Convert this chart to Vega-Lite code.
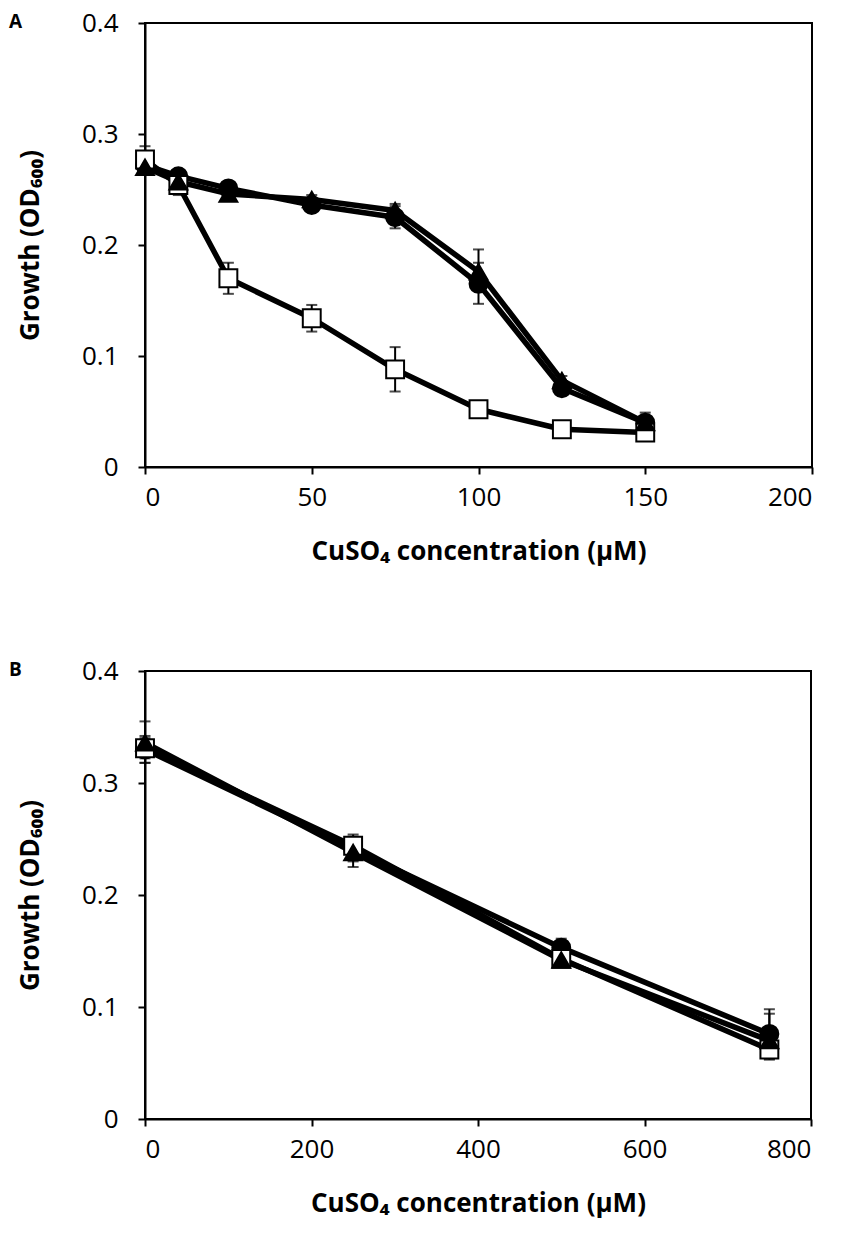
{
  "$schema": "https://vega.github.io/schema/vega-lite/v6.json",
  "background": "white",
  "padding": {"left": 8, "top": 9, "right": 5, "bottom": 5},
  "spacing": 92,
  "config": {
    "font": "Open Sans",
    "view": {"stroke": "black", "strokeWidth": 2},
    "axis": {
      "grid": false,
      "domainColor": "black",
      "domainWidth": 2,
      "tickColor": "black",
      "tickWidth": 2,
      "tickSize": 7,
      "labelFont": "Open Sans",
      "labelFontSize": 26,
      "labelColor": "black",
      "titleFont": "Open Sans",
      "titleFontWeight": "bold",
      "titleColor": "black"
    },
    "axisX": {"labelPadding": 10, "titleFontSize": 26, "titlePadding": 28},
    "axisY": {"labelPadding": 20, "titleFontSize": 26, "titlePadding": 38},
    "title": {"font": "Open Sans", "fontSize": 19, "fontWeight": "bold", "color": "black", "anchor": "start", "frame": "group", "offset": 0}
  },
  "datasets": {
    "panelA": [
      {"conc": 0, "group": "circle", "od": 0.272, "lo": 0.266, "hi": 0.278},
      {"conc": 10, "group": "circle", "od": 0.262, "lo": 0.258, "hi": 0.266},
      {"conc": 25, "group": "circle", "od": 0.251, "lo": 0.247, "hi": 0.255},
      {"conc": 50, "group": "circle", "od": 0.236, "lo": 0.232, "hi": 0.240},
      {"conc": 75, "group": "circle", "od": 0.225, "lo": 0.215, "hi": 0.235},
      {"conc": 100, "group": "circle", "od": 0.165, "lo": 0.147, "hi": 0.184},
      {"conc": 125, "group": "circle", "od": 0.071, "lo": 0.067, "hi": 0.075},
      {"conc": 150, "group": "circle", "od": 0.040, "lo": 0.036, "hi": 0.044},
      {"conc": 0, "group": "square", "od": 0.277, "lo": 0.265, "hi": 0.289},
      {"conc": 10, "group": "square", "od": 0.254, "lo": 0.245, "hi": 0.263},
      {"conc": 25, "group": "square", "od": 0.170, "lo": 0.156, "hi": 0.184},
      {"conc": 50, "group": "square", "od": 0.134, "lo": 0.122, "hi": 0.146},
      {"conc": 75, "group": "square", "od": 0.088, "lo": 0.068, "hi": 0.108},
      {"conc": 100, "group": "square", "od": 0.052, "lo": 0.049, "hi": 0.055},
      {"conc": 125, "group": "square", "od": 0.034, "lo": 0.032, "hi": 0.036},
      {"conc": 150, "group": "square", "od": 0.031, "lo": 0.028, "hi": 0.034},
      {"conc": 0, "group": "triangle", "od": 0.270, "lo": 0.266, "hi": 0.274},
      {"conc": 10, "group": "triangle", "od": 0.257, "lo": 0.253, "hi": 0.261},
      {"conc": 25, "group": "triangle", "od": 0.246, "lo": 0.242, "hi": 0.250},
      {"conc": 50, "group": "triangle", "od": 0.241, "lo": 0.237, "hi": 0.245},
      {"conc": 75, "group": "triangle", "od": 0.231, "lo": 0.225, "hi": 0.237},
      {"conc": 100, "group": "triangle", "od": 0.176, "lo": 0.160, "hi": 0.196},
      {"conc": 125, "group": "triangle", "od": 0.078, "lo": 0.074, "hi": 0.082},
      {"conc": 150, "group": "triangle", "od": 0.040, "lo": 0.031, "hi": 0.049}
    ],
    "panelB": [
      {"conc": 0, "group": "circle", "od": 0.330, "lo": 0.318, "hi": 0.342},
      {"conc": 250, "group": "circle", "od": 0.241, "lo": 0.230, "hi": 0.252},
      {"conc": 500, "group": "circle", "od": 0.153, "lo": 0.145, "hi": 0.161},
      {"conc": 750, "group": "circle", "od": 0.076, "lo": 0.054, "hi": 0.098},
      {"conc": 0, "group": "square", "od": 0.331, "lo": 0.322, "hi": 0.340},
      {"conc": 250, "group": "square", "od": 0.244, "lo": 0.236, "hi": 0.254},
      {"conc": 500, "group": "square", "od": 0.143, "lo": 0.139, "hi": 0.147},
      {"conc": 750, "group": "square", "od": 0.062, "lo": 0.053, "hi": 0.071},
      {"conc": 0, "group": "triangle", "od": 0.336, "lo": 0.318, "hi": 0.355},
      {"conc": 250, "group": "triangle", "od": 0.238, "lo": 0.225, "hi": 0.251},
      {"conc": 500, "group": "triangle", "od": 0.142, "lo": 0.138, "hi": 0.146},
      {"conc": 750, "group": "triangle", "od": 0.070, "lo": 0.056, "hi": 0.094}
    ]
  },
  "vconcat": [
    {
      "title": {"text": "A", "dx": -136, "dy": 26},
      "width": 667,
      "height": 444,
      "data": {"name": "panelA"},
      "layer": [
        {
          "mark": {"type": "errorbar", "ticks": {"size": 11, "thickness": 2, "color": "black"}, "rule": {"strokeWidth": 2, "color": "black"}},
          "encoding": {
            "x": {"field": "conc", "type": "quantitative", "title": "CuSO₄ concentration (µM)", "scale": {"domain": [0, 200], "nice": false}, "axis": {"values": [0, 50, 100, 150, 200]}},
            "y": {"field": "lo", "type": "quantitative", "title": "Growth (OD₆₀₀)", "scale": {"domain": [0, 0.4], "nice": false}, "axis": {"values": [0, 0.1, 0.2, 0.3, 0.4], "format": ".1~f"}},
            "y2": {"field": "hi"}
          }
        },
        {
          "mark": {"type": "line", "color": "black", "strokeWidth": 5.5, "strokeJoin": "round"},
          "encoding": {
            "x": {"field": "conc", "type": "quantitative", "title": "CuSO₄ concentration (µM)", "scale": {"domain": [0, 200], "nice": false}, "axis": {"values": [0, 50, 100, 150, 200]}},
            "y": {"field": "od", "type": "quantitative", "title": "Growth (OD₆₀₀)", "scale": {"domain": [0, 0.4], "nice": false}, "axis": {"values": [0, 0.1, 0.2, 0.3, 0.4], "format": ".1~f"}},
            "detail": {"field": "group"}
          }
        },
        {
          "mark": {"type": "point", "filled": true, "stroke": "black", "strokeWidth": 2, "opacity": 1, "size": 320},
          "encoding": {
            "x": {"field": "conc", "type": "quantitative", "title": "CuSO₄ concentration (µM)", "scale": {"domain": [0, 200], "nice": false}, "axis": {"values": [0, 50, 100, 150, 200]}},
            "y": {"field": "od", "type": "quantitative", "title": "Growth (OD₆₀₀)", "scale": {"domain": [0, 0.4], "nice": false}, "axis": {"values": [0, 0.1, 0.2, 0.3, 0.4], "format": ".1~f"}},
            "shape": {"field": "group", "type": "nominal", "scale": {"domain": ["circle", "square", "triangle"], "range": ["circle", "square", "triangle-up"]}, "legend": null},
            "fill": {"field": "group", "type": "nominal", "scale": {"domain": ["circle", "square", "triangle"], "range": ["black", "white", "black"]}, "legend": null}
          }
        }
      ]
    },
    {
      "title": {"text": "B", "dx": -136, "dy": 26},
      "width": 666,
      "height": 448,
      "data": {"name": "panelB"},
      "layer": [
        {
          "mark": {"type": "errorbar", "ticks": {"size": 11, "thickness": 2, "color": "black"}, "rule": {"strokeWidth": 2, "color": "black"}},
          "encoding": {
            "x": {"field": "conc", "type": "quantitative", "title": "CuSO₄ concentration (µM)", "scale": {"domain": [0, 800], "nice": false}, "axis": {"values": [0, 200, 400, 600, 800]}},
            "y": {"field": "lo", "type": "quantitative", "title": "Growth (OD₆₀₀)", "scale": {"domain": [0, 0.4], "nice": false}, "axis": {"values": [0, 0.1, 0.2, 0.3, 0.4], "format": ".1~f"}},
            "y2": {"field": "hi"}
          }
        },
        {
          "mark": {"type": "line", "color": "black", "strokeWidth": 5.5, "strokeJoin": "round"},
          "encoding": {
            "x": {"field": "conc", "type": "quantitative", "title": "CuSO₄ concentration (µM)", "scale": {"domain": [0, 800], "nice": false}, "axis": {"values": [0, 200, 400, 600, 800]}},
            "y": {"field": "od", "type": "quantitative", "title": "Growth (OD₆₀₀)", "scale": {"domain": [0, 0.4], "nice": false}, "axis": {"values": [0, 0.1, 0.2, 0.3, 0.4], "format": ".1~f"}},
            "detail": {"field": "group"}
          }
        },
        {
          "mark": {"type": "point", "filled": true, "stroke": "black", "strokeWidth": 2, "opacity": 1, "size": 320},
          "encoding": {
            "x": {"field": "conc", "type": "quantitative", "title": "CuSO₄ concentration (µM)", "scale": {"domain": [0, 800], "nice": false}, "axis": {"values": [0, 200, 400, 600, 800]}},
            "y": {"field": "od", "type": "quantitative", "title": "Growth (OD₆₀₀)", "scale": {"domain": [0, 0.4], "nice": false}, "axis": {"values": [0, 0.1, 0.2, 0.3, 0.4], "format": ".1~f"}},
            "shape": {"field": "group", "type": "nominal", "scale": {"domain": ["circle", "square", "triangle"], "range": ["circle", "square", "triangle-up"]}, "legend": null},
            "fill": {"field": "group", "type": "nominal", "scale": {"domain": ["circle", "square", "triangle"], "range": ["black", "white", "black"]}, "legend": null}
          }
        }
      ]
    }
  ]
}
